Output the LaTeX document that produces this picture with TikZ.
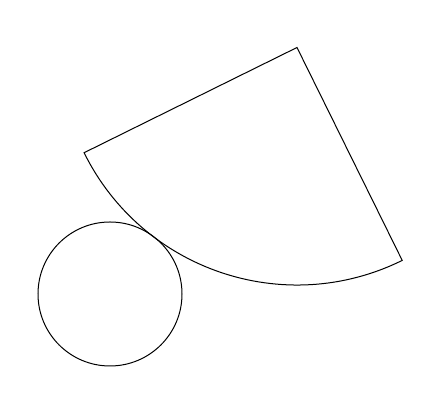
\documentclass[tikz,border=0pt]{standalone}
\begin{document}
\begin{tikzpicture}[x=1pt,y=1pt,line width=1pt,shape line/.style={draw=black}]
\useasboundingbox (0,0) rectangle (440,414);
\coordinate (apex) at (297,366.5);
\draw[shape line] (apex) -- ++(206.3:237.5) arc[start angle=206.3,end angle=296.3,radius=237.5] -- cycle;
\node[shape line,circle,minimum size=144pt,inner sep=0pt] (ball) at (110,120) {};
\end{tikzpicture}
\end{document}
